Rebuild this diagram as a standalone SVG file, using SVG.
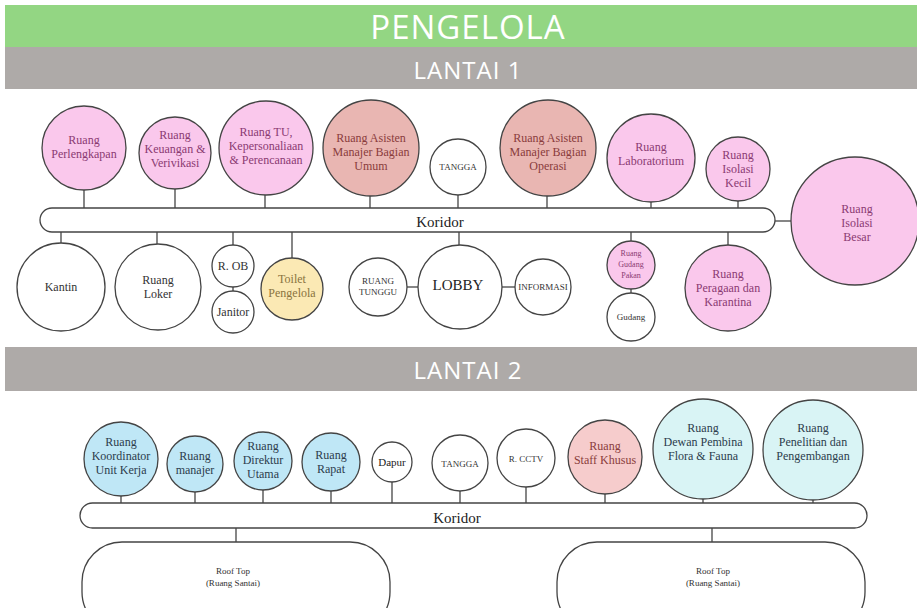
<svg xmlns="http://www.w3.org/2000/svg" width="917" height="608" viewBox="0 0 917 608">
<style>
.hd{font-family:"Open Sans","Liberation Sans",sans-serif;fill:#fff;text-anchor:middle}
circle,.pill{stroke:#444;stroke-width:1.3}
.w{fill:#fff}.pk{fill:#fac8ec}.sa{fill:#e9b6b2}.bl{fill:#bfe7f6}.cy{fill:#d9f4f5}.ye{fill:#fbe9b4}.sp{fill:#f6cccc}
text{font-family:"Liberation Serif","Times New Roman",serif;text-anchor:middle}
.t{font-size:12px;fill:#333}
.tp{font-size:12px;fill:#8a3a72}
.ts{font-size:12px;fill:#8a3c3c}
.tb{font-size:12px;fill:#2c3c4c}
.ty{font-size:12px;fill:#8a7440}
.sm{font-size:9px;fill:#333}
#conn line{stroke:#444;stroke-width:1.3}
</style>
<rect width="917" height="608" fill="#fff"/>
<rect x="5" y="5" width="912" height="42" fill="#93d683"/>
<text class="hd" x="468" y="39" font-size="33" letter-spacing="1" style="font-family:'Open Sans','Liberation Sans',sans-serif">PENGELOLA</text>
<rect x="5" y="47" width="912" height="42" fill="#aeaaa8"/>
<text class="hd" x="468" y="79" font-size="24" letter-spacing="1" style="font-family:'Open Sans','Liberation Sans',sans-serif">LANTAI 1</text>
<rect x="5" y="347" width="912" height="44" fill="#aeaaa8"/>
<text class="hd" x="468" y="379" font-size="24" letter-spacing="1" style="font-family:'Open Sans','Liberation Sans',sans-serif">LANTAI 2</text>

<g id="conn">
<line x1="84" y1="190" x2="84" y2="208"/>
<line x1="175" y1="189" x2="175" y2="208"/>
<line x1="265" y1="195" x2="265" y2="208"/>
<line x1="370" y1="196" x2="370" y2="208"/>
<line x1="458" y1="195" x2="458" y2="208"/>
<line x1="547" y1="196" x2="547" y2="208"/>
<line x1="651" y1="202" x2="651" y2="208"/>
<line x1="738" y1="201" x2="738" y2="208"/>
<line x1="775" y1="221" x2="791" y2="221"/>
<line x1="61" y1="232" x2="61" y2="243"/>
<line x1="157" y1="232" x2="157" y2="244"/>
<line x1="233" y1="232" x2="233" y2="245"/>
<line x1="233" y1="287" x2="233" y2="291"/>
<line x1="292" y1="232" x2="292" y2="258"/>
<line x1="459" y1="232" x2="459" y2="245"/>
<line x1="407" y1="287" x2="418" y2="287"/>
<line x1="502" y1="287" x2="515" y2="287"/>
<line x1="631" y1="232" x2="631" y2="241"/>
<line x1="631" y1="289" x2="631" y2="293"/>
<line x1="728" y1="232" x2="728" y2="245"/>
<line x1="121" y1="496" x2="121" y2="503"/>
<line x1="195" y1="492" x2="195" y2="503"/>
<line x1="263" y1="490" x2="263" y2="503"/>
<line x1="331" y1="491" x2="331" y2="503"/>
<line x1="392" y1="482" x2="392" y2="503"/>
<line x1="460" y1="491" x2="460" y2="503"/>
<line x1="526" y1="487" x2="526" y2="503"/>
<line x1="605" y1="494" x2="605" y2="503"/>
<line x1="703" y1="499" x2="703" y2="503"/>
<line x1="813" y1="500" x2="813" y2="503"/>
<line x1="236" y1="528" x2="236" y2="542"/>
<line x1="712" y1="528" x2="712" y2="542"/>
</g>

<g id="koridor1"><rect class="pill" x="40" y="208" width="735" height="24" rx="12" fill="#fff"/><text x="440" y="227" font-size="15" fill="#222">Koridor</text></g>
<g id="koridor2"><rect class="pill" x="80" y="503" width="787" height="25" rx="12.5" fill="#fff"/><text x="457" y="523" font-size="15" fill="#222">Koridor</text></g>

<g id="perlengkapan"><circle class="pk" cx="84" cy="148" r="42"/><text class="tp" x="84" y="144">Ruang</text><text class="tp" x="84" y="158">Perlengkapan</text></g>
<g id="keuangan"><circle class="pk" cx="175" cy="153" r="36"/><text class="tp" x="175" y="139">Ruang</text><text class="tp" x="175" y="153">Keuangan &amp;</text><text class="tp" x="175" y="167">Verivikasi</text></g>
<g id="tu"><circle class="pk" cx="266" cy="148" r="47"/><text class="tp" x="266" y="136">Ruang TU,</text><text class="tp" x="266" y="150">Kepersonaliaan</text><text class="tp" x="266" y="164">&amp; Perencanaan</text></g>
<g id="asisten-umum"><circle class="sa" cx="371" cy="148" r="48"/><text class="ts" x="371" y="142">Ruang Asisten</text><text class="ts" x="371" y="156">Manajer Bagian</text><text class="ts" x="371" y="170">Umum</text></g>
<g id="tangga1"><circle class="w" cx="458" cy="167" r="28"/><text class="sm" x="458" y="170">TANGGA</text></g>
<g id="asisten-operasi"><circle class="sa" cx="548" cy="148" r="48"/><text class="ts" x="548" y="142">Ruang Asisten</text><text class="ts" x="548" y="156">Manajer Bagian</text><text class="ts" x="548" y="170">Operasi</text></g>
<g id="laboratorium"><circle class="pk" cx="651" cy="158" r="44"/><text class="tp" x="651" y="151">Ruang</text><text class="tp" x="651" y="165">Laboratorium</text></g>
<g id="isolasi-kecil"><circle class="pk" cx="738" cy="169" r="32"/><text class="tp" x="738" y="159">Ruang</text><text class="tp" x="738" y="173">Isolasi</text><text class="tp" x="738" y="187">Kecil</text></g>
<g id="isolasi-besar"><circle class="pk" cx="855" cy="221" r="64"/><text class="tp" x="857" y="213">Ruang</text><text class="tp" x="857" y="227">Isolasi</text><text class="tp" x="857" y="241">Besar</text></g>

<g id="kantin"><circle class="w" cx="61" cy="287" r="44"/><text class="t" x="61" y="291">Kantin</text></g>
<g id="loker"><circle class="w" cx="158" cy="287" r="43"/><text class="t" x="158" y="284">Ruang</text><text class="t" x="158" y="298">Loker</text></g>
<g id="rob"><circle class="w" cx="233" cy="266" r="21"/><text class="t" x="233" y="270">R. OB</text></g>
<g id="janitor"><circle class="w" cx="233" cy="312" r="21"/><text class="t" x="233" y="316">Janitor</text></g>
<g id="toilet"><circle class="ye" cx="292" cy="289" r="31"/><text class="ty" x="292" y="283">Toilet</text><text class="ty" x="292" y="297">Pengelola</text></g>
<g id="ruang-tunggu"><circle class="w" cx="378" cy="287" r="29"/><text class="sm" x="378" y="284">RUANG</text><text class="sm" x="378" y="295">TUNGGU</text></g>
<g id="lobby"><circle class="w" cx="460" cy="287" r="42"/><text x="458" y="290" font-size="15" fill="#222">LOBBY</text></g>
<g id="informasi"><circle class="w" cx="543" cy="287" r="28"/><text class="sm" x="543" y="290">INFORMASI</text></g>
<g id="gudang-pakan"><circle class="pk" cx="631" cy="265" r="24"/><text x="631" y="256" font-size="8" fill="#8a3a72">Ruang</text><text x="631" y="267" font-size="8" fill="#8a3a72">Gudang</text><text x="631" y="278" font-size="8" fill="#8a3a72">Pakan</text></g>
<g id="gudang"><circle class="w" cx="631" cy="317" r="24"/><text x="631" y="320" font-size="9" fill="#333">Gudang</text></g>
<g id="peragaan"><circle class="pk" cx="728" cy="288" r="43"/><text class="tp" x="728" y="278">Ruang</text><text class="tp" x="728" y="292">Peragaan dan</text><text class="tp" x="728" y="306">Karantina</text></g>

<g id="koordinator"><circle class="bl" cx="121" cy="459" r="37"/><text class="tb" x="121" y="446">Ruang</text><text class="tb" x="121" y="460">Koordinator</text><text class="tb" x="121" y="474">Unit Kerja</text></g>
<g id="manajer"><circle class="bl" cx="195" cy="464" r="28"/><text class="tb" x="195" y="460">Ruang</text><text class="tb" x="195" y="474">manajer</text></g>
<g id="direktur"><circle class="bl" cx="263" cy="461" r="29"/><text class="tb" x="263" y="450">Ruang</text><text class="tb" x="263" y="464">Direktur</text><text class="tb" x="263" y="478">Utama</text></g>
<g id="rapat"><circle class="bl" cx="331" cy="462" r="29"/><text class="tb" x="331" y="459">Ruang</text><text class="tb" x="331" y="473">Rapat</text></g>
<g id="dapur"><circle class="w" cx="392" cy="462" r="20"/><text x="392" y="466" font-size="11" fill="#222">Dapur</text></g>
<g id="tangga2"><circle class="w" cx="460" cy="463" r="28"/><text class="sm" x="460" y="467">TANGGA</text></g>
<g id="cctv"><circle class="w" cx="526" cy="458" r="29"/><text class="sm" x="526" y="462">R. CCTV</text></g>
<g id="staff-khusus"><circle class="sp" cx="605" cy="457" r="37"/><text class="ts" x="605" y="450">Ruang</text><text class="ts" x="605" y="464">Staff Khusus</text></g>
<g id="dewan"><circle class="cy" cx="703" cy="449" r="50"/><text class="tb" x="703" y="432">Ruang</text><text class="tb" x="703" y="446">Dewan Pembina</text><text class="tb" x="703" y="460">Flora &amp; Fauna</text></g>
<g id="penelitian"><circle class="cy" cx="813" cy="450" r="50"/><text class="tb" x="813" y="432">Ruang</text><text class="tb" x="813" y="446">Penelitian dan</text><text class="tb" x="813" y="460">Pengembangan</text></g>

<g id="rooftop1"><rect class="pill" x="82" y="542" width="308" height="90" rx="40" fill="#fff"/><text x="233" y="574" font-size="9" fill="#333">Roof Top</text><text x="233" y="586" font-size="9" fill="#333">(Ruang Santai)</text></g>
<g id="rooftop2"><rect class="pill" x="557" y="542" width="308" height="90" rx="40" fill="#fff"/><text x="713" y="574" font-size="9" fill="#333">Roof Top</text><text x="713" y="586" font-size="9" fill="#333">(Ruang Santai)</text></g>
</svg>
